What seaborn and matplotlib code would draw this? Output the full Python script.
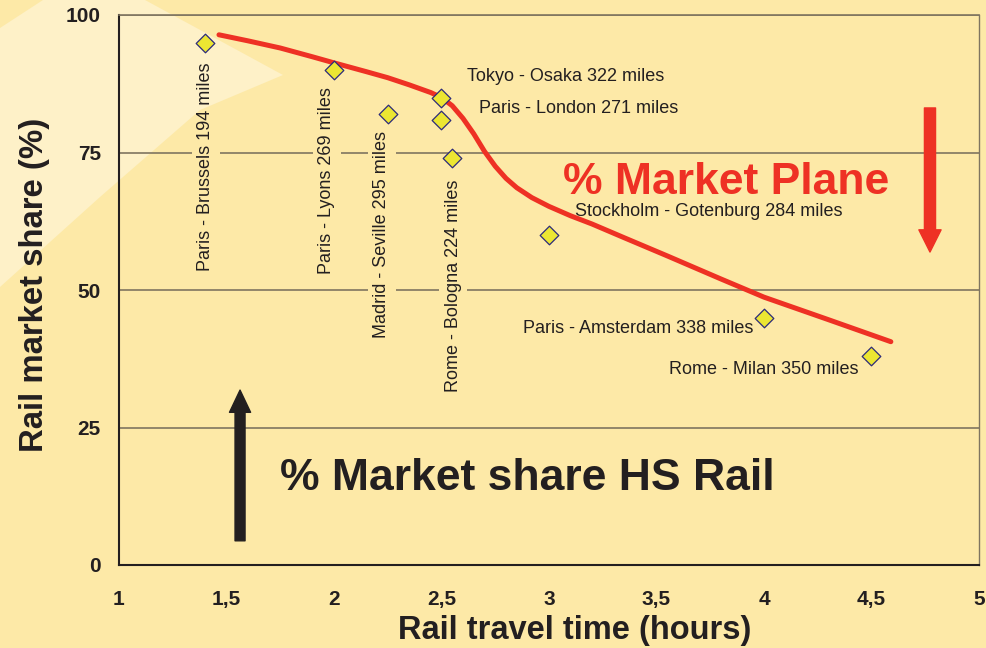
import matplotlib
matplotlib.use("Agg")
import matplotlib.pyplot as plt
from matplotlib.patches import Polygon, Rectangle
import seaborn as sns
import pandas as pd

# Routes: rail travel time (hours) vs. rail market share (%)
routes = [
    "Paris - Brussels 194 miles",
    "Paris - Lyons 269 miles",
    "Madrid - Seville 295 miles",
    "Tokyo - Osaka 322 miles",
    "Paris - London 271 miles",
    "Rome - Bologna 224 miles",
    "Stockholm - Gotenburg 284 miles",
    "Paris - Amsterdam 338 miles",
    "Rome - Milan 350 miles",
]
travel_hours = [1.4, 2.0, 2.25, 2.5, 2.5, 2.55, 3.0, 4.0, 4.5]
rail_share = [95, 90, 82, 85, 81, 74, 60, 45, 38]

# Trend curve (plane share grows as rail time rises)
trend_hours = [1.465, 1.6, 1.75, 1.9, 2.0, 2.15, 2.25, 2.35, 2.45, 2.5, 2.55,
               2.6, 2.65, 2.70, 2.75, 2.8, 2.85, 2.92, 3.0, 3.1, 3.2, 3.35,
               3.55, 3.8, 4.0, 4.3, 4.59]
trend_share = [96.4, 95.3, 94.0, 92.4, 91.3, 89.7, 88.6, 87.3, 85.9, 85.0, 83.5,
               81.2, 78.4, 75.2, 72.5, 70.3, 68.6, 66.8, 65.2, 63.5, 62.0, 59.5,
               56.2, 52.0, 48.7, 44.6, 40.6]

x_ticks = [1, 1.5, 2, 2.5, 3, 3.5, 4, 4.5, 5]
x_tick_labels = ["1", "1,5", "2", "2,5", "3", "3,5", "4", "4,5", "5"]
y_ticks = [0, 25, 50, 75, 100]

BG = "#FDE9A7"
WEDGE = "#FEF1C8"
RED = "#EE3124"
INK = "#231F20"
GRID = "#7F7560"

sns.set_style("white")
plt.rcParams["font.family"] = ["Liberation Sans", "DejaVu Sans"]

fig = plt.figure(figsize=(9.87, 6.48), dpi=100, facecolor=BG)
W, H = 987, 648

# pale light wedge in the top-left corner
wedge_px = [(0, 28), (43, 0), (145, 0), (283, 75), (200, 110), (100, 197), (0, 287)]
fig.patches.append(Polygon([(x / W, 1 - y / H) for x, y in wedge_px], closed=True,
                           transform=fig.transFigure, facecolor=WEDGE,
                           edgecolor="none", zorder=-5))

ax = fig.add_axes([119 / W, 83 / H, 860 / W, 550 / H])
ax.set_facecolor("none")

df_pts = pd.DataFrame({"hours": travel_hours, "share": rail_share, "route": routes})
df_trend = pd.DataFrame({"hours": trend_hours, "share": trend_share})

sns.lineplot(data=df_trend, x="hours", y="share", sort=False, estimator=None,
             color=RED, linewidth=3.6, ax=ax, zorder=2)
sns.scatterplot(data=df_pts, x="hours", y="share", marker="D", s=90,
                color="#ECE632", edgecolor="#2B2A7A", linewidth=0.9,
                ax=ax, zorder=4)

# route labels: (dx, dy) offsets in pixels, rotation, alignment
label_style = [
    (1, -124, 90, "center"),
    (-7, -111, 90, "center"),
    (-6, -120, 90, "center"),
    (26, 21, 0, "left"),
    (38, 11, 0, "left"),
    (1, -128, 90, "center"),
    (26, 23, 0, "left"),
    (-11, -11, 0, "right"),
    (-13, -14, 0, "right"),
]
for name, xh, ys, (dx, dy, rot, ha) in zip(routes, travel_hours, rail_share, label_style):
    # vertical labels break the grid lines behind them
    box = (dict(boxstyle="square,pad=0.3", facecolor=BG, edgecolor="none")
           if rot else None)
    t = ax.annotate(name, xy=(xh, ys), xytext=(dx, dy), textcoords="offset pixels",
                    rotation=rot, ha=ha, va="center", fontsize=13, color=INK,
                    bbox=box, zorder=3)
    if rot and xh < 1.5:
        # keep the backing box off the pale wedge
        t.get_bbox_patch().set_clip_path(
            Rectangle((0, 0), 1, 0.81, transform=ax.transAxes))

# direction arrows and captions
ax.annotate("", xy=(4.772, 56.9), xytext=(4.772, 83.1),
            arrowprops=dict(arrowstyle="simple,head_length=1.0,head_width=1.0,tail_width=0.5",
                            color=RED, mutation_scale=16, shrinkA=0, shrinkB=0))
ax.annotate("", xy=(1.563, 31.8), xytext=(1.563, 4.4),
            arrowprops=dict(arrowstyle="simple,head_length=1.0,head_width=0.95,tail_width=0.45",
                            color=INK, mutation_scale=16, shrinkA=0, shrinkB=0))
ax.text(3.823, 69.6, "% Market Plane", color=RED, fontsize=32, fontweight="bold",
        ha="center", va="center")
ax.text(2.9, 15.8, "% Market share HS Rail", color=INK, fontsize=32, fontweight="bold",
        ha="center", va="center")

ax.set_xlim(1, 5)
ax.set_ylim(0, 100)
ax.set_xticks(x_ticks)
ax.set_xticklabels(x_tick_labels)
ax.set_yticks(y_ticks)
ax.tick_params(axis="both", direction="out", length=5, width=1.0, color=INK,
               labelsize=15, labelcolor=INK)
ax.tick_params(axis="x", pad=13)
ax.tick_params(axis="y", pad=8)
for lbl in ax.get_xticklabels() + ax.get_yticklabels():
    lbl.set_fontweight("bold")

ax.yaxis.grid(True, color=GRID, linewidth=1.2)
ax.xaxis.grid(False)
ax.set_axisbelow(True)

for side in ("left", "bottom"):
    ax.spines[side].set_color(INK)
    ax.spines[side].set_linewidth(1.5)
ax.spines["top"].set_color(GRID)
ax.spines["top"].set_linewidth(1.2)
ax.spines["right"].set_color(GRID)
ax.spines["right"].set_linewidth(1.0)

ax.set_xlabel("Rail travel time (hours)", fontsize=23.5, fontweight="bold",
              color=INK, va="center")
ax.set_ylabel("Rail market share (%)", fontsize=23.7, fontweight="bold",
              color=INK, va="center")
ax.xaxis.set_label_coords((575 - 119) / 860, (565 - 630) / 550)
ax.yaxis.set_label_coords((35 - 119) / 860, (565 - 285) / 550)

fig.savefig("out.png", dpi=100, facecolor=BG)
